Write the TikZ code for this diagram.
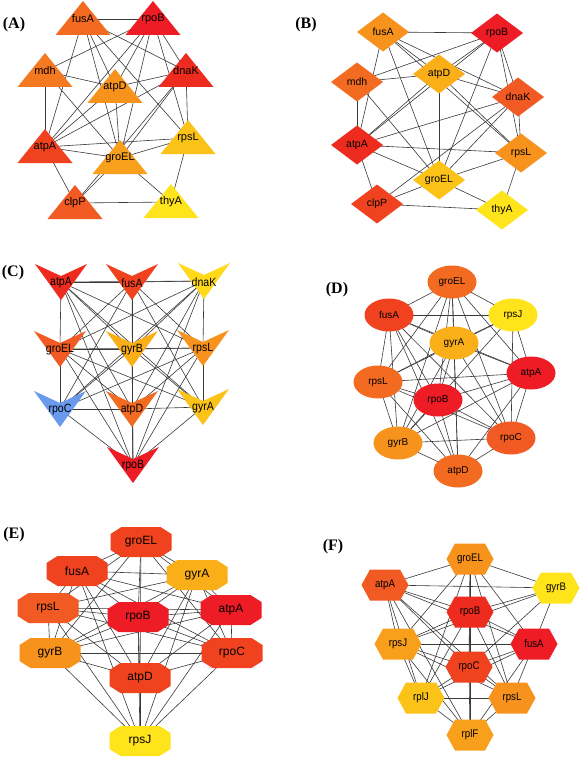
\documentclass[tikz,border=0pt]{standalone}
\usepackage{fontspec}
\setmainfont{Liberation Sans}
\newfontfamily\lblserif{Liberation Serif}
\newfontfamily\narrowf[FakeStretch=0.88]{Liberation Sans}
\definecolor{r1}{HTML}{EE1C24}
\definecolor{r2}{HTML}{EE2B1F}
\definecolor{r3}{HTML}{F0421F}
\definecolor{r4}{HTML}{F15A22}
\definecolor{o1}{HTML}{F26B21}
\definecolor{o2}{HTML}{F47920}
\definecolor{o3}{HTML}{F7921D}
\definecolor{o4}{HTML}{F8A01C}
\definecolor{y1}{HTML}{FAAF19}
\definecolor{y2}{HTML}{FBC318}
\definecolor{y3}{HTML}{FFD91A}
\definecolor{y4}{HTML}{FFE31B}
\definecolor{bl}{HTML}{6A9AEE}
\definecolor{edgec}{HTML}{3A3A3A}
\newcommand\Tri[3]{\fill[#2,shift={(#1)}] (-27.5,16) -- (0,-18) -- (27.5,16) -- cycle; \node[lbl] (#1-t) at (#1) {#3};}
\newcommand\Dia[3]{\fill[#2,shift={(#1)}] (-26,0) -- (0,-19.5) -- (26,0) -- (0,19.5) -- cycle; \node[lbl] (#1-t) at (#1) {#3};}
\newcommand\Vee[3]{\fill[#2,shift={(#1)}] (-26,-18) -- (0,-6) -- (26,-18) -- (0,18) -- cycle; \node[lbl] (#1-t) at ([yshift=-1pt]#1) {#3};}
\newcommand\Ell[3]{\fill[#2,shift={(#1)}] (0,0) ellipse [x radius=24.5, y radius=16.5]; \node[lbl] (#1-t) at (#1) {#3};}
\newcommand\Oct[3]{\fill[#2,shift={(#1)}] (-19.5,-15) -- (19.5,-15) -- (30.5,-8) -- (30.5,8) -- (19.5,15) -- (-19.5,15) -- (-30.5,8) -- (-30.5,-8) -- cycle; \node[lbl] (#1-t) at (#1) {#3};}
\newcommand\Hex[3]{\fill[#2,shift={(#1)}] (-15,-15.5) -- (15,-15.5) -- (23.5,0) -- (15,15.5) -- (-15,15.5) -- (-23.5,0) -- cycle; \node[lbl] (#1-t) at (#1) {#3};}
\begin{document}
\begin{tikzpicture}[x=1pt,y=-1pt,
  edge/.style={draw=edgec,line width=0.6pt},
  lbl/.style={inner sep=0pt,text=black},
  plabel/.style={font=\lblserif\bfseries\fontsize{16}{18}\selectfont,inner sep=0pt}]
\useasboundingbox[fill=white] (0,0) rectangle (580,757);

% ---------------- (A) ----------------
\node[plabel] (labA) at (14,25) {(A)};
\foreach \n/\x/\y in {fusA/83/19,rpoB/153/19,mdh/45/71,atpD/115/87,dnaK/186/71,atpA/45/147,rpsL/188/138,groEL/120/158,clpP/75/203,thyA/171/202}
  \coordinate (A-\n) at (\x,\y);
\foreach \a/\b in {fusA/rpoB,fusA/dnaK,fusA/atpA,fusA/atpD,fusA/groEL,fusA/rpsL,rpoB/mdh,rpoB/atpD,rpoB/dnaK,rpoB/atpA,rpoB/groEL,rpoB/rpsL,mdh/atpD,mdh/atpA,mdh/groEL,atpD/dnaK,atpD/atpA,atpD/groEL,dnaK/atpA,dnaK/groEL,dnaK/clpP,atpA/rpsL,atpA/groEL,atpA/clpP,groEL/rpsL,groEL/thyA,groEL/clpP,rpsL/thyA,clpP/thyA,dnaK/rpsL}
  \draw[edge] (A-\a) -- (A-\b);
\begin{scope}[lbl/.append style={font=\fontsize{11}{13}\selectfont}]
\foreach \n/\c in {fusA/o1,rpoB/r1,mdh/o2,atpD/o3,dnaK/r2,atpA/r3,rpsL/y2,groEL/o4,clpP/r4,thyA/y4}
  {\Tri{A-\n}{\c}{\n}}
\end{scope}

% ---------------- (B) ----------------
\node[plabel] (labB) at (306,25) {(B)};
\foreach \n/\x/\y in {fusA/383/32,rpoB/497/33,mdh/357/82,atpD/439/74,dnaK/518/97,atpA/357/145,rpsL/521/153,groEL/439/180,clpP/377/204,thyA/502/210}
  \coordinate (B-\n) at (\x,\y);
\foreach \a/\b in {fusA/rpoB,fusA/atpA,fusA/atpD,fusA/dnaK,fusA/groEL,fusA/rpsL,rpoB/mdh,rpoB/atpD,rpoB/atpA,rpoB/groEL,rpoB/dnaK,rpoB/rpsL,mdh/atpD,mdh/atpA,mdh/groEL,atpD/dnaK,atpD/atpA,atpD/groEL,atpD/rpsL,dnaK/atpA,dnaK/groEL,dnaK/clpP,dnaK/rpsL,atpA/rpsL,atpA/groEL,atpA/clpP,groEL/rpsL,groEL/clpP,groEL/thyA,rpsL/thyA,clpP/thyA}
  \draw[edge] (B-\a) -- (B-\b);
\begin{scope}[lbl/.append style={font=\fontsize{10.5}{12}\selectfont}]
\foreach \n/\c in {fusA/o3,rpoB/r1,mdh/o1,atpD/y1,dnaK/r4,atpA/r2,rpsL/o3,groEL/y2,clpP/r3,thyA/y4}
  {\Dia{B-\n}{\c}{\n}}
\end{scope}

% ---------------- (C) ----------------
\node[plabel] (labC) at (13,273) {(C)};
\foreach \n/\x/\y in {atpA/61/282,fusA/132/282,dnaK/204/281,groEL/60/349,gyrB/132/349,rpsL/203/348,rpoC/60/409,atpD/132/409,gyrA/203/407,rpoB/133/465}
  \coordinate (C-\n) at (\x,\y);
\foreach \a/\b in {atpA/fusA,fusA/dnaK,atpA/dnaK,atpA/groEL,atpA/rpsL,atpA/atpD,atpA/gyrA,atpA/rpoB,atpA/gyrB,fusA/groEL,fusA/rpoC,fusA/gyrB,fusA/rpsL,fusA/gyrA,fusA/atpD,fusA/rpoB,dnaK/groEL,dnaK/gyrB,dnaK/rpoC,dnaK/atpD,dnaK/rpsL,dnaK/rpoB,groEL/gyrB,groEL/rpsL,groEL/rpoC,groEL/gyrA,groEL/rpoB,groEL/atpD,gyrB/rpsL,gyrB/rpoC,gyrB/atpD,gyrB/rpoB,gyrB/gyrA,rpsL/rpoC,rpsL/atpD,rpsL/gyrA,rpsL/rpoB,rpoC/atpD,atpD/gyrA,rpoC/rpoB,atpD/rpoB,gyrA/rpoB}
  \draw[edge] (C-\a) -- (C-\b);
\begin{scope}[lbl/.append style={font=\narrowf\fontsize{12}{14}\selectfont}]
\foreach \n/\c in {atpA/r2,fusA/r3,dnaK/y3,groEL/r4,gyrB/y1,rpsL/o3,rpoC/bl,atpD/o1,gyrA/y2,rpoB/r1}
  {\Vee{C-\n}{\c}{\n}}
\end{scope}

% ---------------- (D) ----------------
\node[plabel] (labD) at (337,290) {(D)};
\foreach \n/\x/\y in {groEL/452/282,fusA/389/315,rpsJ/513/315,gyrA/454/343,rpsL/378/382,atpA/531/373,rpoB/438/400,gyrB/398/443,rpoC/511/438,atpD/458/471}
  \coordinate (D-\n) at (\x,\y);
\foreach \a/\b in {groEL/fusA,groEL/rpsJ,groEL/gyrA,groEL/rpsL,groEL/rpoB,groEL/gyrB,groEL/rpoC,groEL/atpD,groEL/atpA,fusA/rpsJ,fusA/gyrA,fusA/rpsL,fusA/rpoB,fusA/gyrB,fusA/atpD,fusA/rpoC,fusA/atpA,rpsJ/gyrA,rpsJ/rpsL,rpsJ/atpA,rpsJ/rpoC,rpsJ/gyrB,gyrA/rpsL,gyrA/atpA,gyrA/rpoB,gyrA/gyrB,gyrA/rpoC,gyrA/atpD,rpsL/atpA,rpsL/rpoB,rpsL/gyrB,rpsL/rpoC,rpsL/atpD,atpA/rpoB,atpA/gyrB,atpA/rpoC,atpA/atpD,rpoB/gyrB,rpoB/rpoC,rpoB/atpD,gyrB/rpoC,gyrB/atpD,rpoC/atpD}
  \draw[edge] (D-\a) -- (D-\b);
\begin{scope}[lbl/.append style={font=\fontsize{10}{12}\selectfont}]
\foreach \n/\c in {groEL/o1,fusA/r3,rpsJ/y4,gyrA/y1,rpsL/o1,atpA/r1,rpoB/r1,gyrB/o3,rpoC/r4,atpD/o1}
  {\Ell{D-\n}{\c}{\n}}
\end{scope}

% ---------------- (E) ----------------
\node[plabel] (labE) at (14,535) {(E)};
\foreach \n/\x/\y in {groEL/141/542,fusA/77/571,gyrA/197/575,rpsL/48/608,rpoB/138/617,atpA/231/610,gyrB/50/653,rpoC/232/653,atpD/140/678,rpsJ/140/741}
  \coordinate (E-\n) at (\x,\y);
\foreach \a/\b in {groEL/fusA,groEL/gyrA,groEL/rpsL,groEL/rpoB,groEL/atpA,groEL/gyrB,groEL/rpoC,groEL/atpD,fusA/gyrA,fusA/rpsL,fusA/rpoB,fusA/atpA,fusA/gyrB,fusA/rpoC,fusA/atpD,fusA/rpsJ,gyrA/rpsL,gyrA/rpoB,gyrA/atpA,gyrA/gyrB,gyrA/rpoC,gyrA/atpD,gyrA/rpsJ,rpsL/rpoB,rpsL/atpA,rpsL/gyrB,rpsL/rpoC,rpsL/atpD,rpsL/rpsJ,rpoB/atpA,rpoB/gyrB,rpoB/rpoC,rpoB/atpD,rpoB/rpsJ,atpA/gyrB,atpA/rpoC,atpA/atpD,atpA/rpsJ,gyrB/rpoC,gyrB/atpD,gyrB/rpsJ,rpoC/atpD,rpoC/rpsJ,atpD/rpsJ}
  \draw[edge] (E-\a) -- (E-\b);
\begin{scope}[lbl/.append style={font=\fontsize{12}{14}\selectfont}]
\foreach \n/\c in {groEL/r3,fusA/r3,gyrA/y1,rpsL/r4,rpoB/r1,atpA/r1,gyrB/o3,rpoC/r3,atpD/r3,rpsJ/y4}
  {\Oct{E-\n}{\c}{\n}}
\end{scope}

% ---------------- (F) ----------------
\node[plabel] (labF) at (333,547) {(F)};
\foreach \n/\x/\y in {groEL/470/559,atpA/385/585,gyrB/556/588,rpoB/470/612,rpsJ/398/644,fusA/534/644,rpoC/469/667,rplJ/421/698,rpsL/512/698,rplF/470/735}
  \coordinate (F-\n) at (\x,\y);
\foreach \a/\b in {groEL/atpA,groEL/gyrB,groEL/rpoB,groEL/rpsJ,groEL/fusA,groEL/rpoC,groEL/rplJ,groEL/rpsL,groEL/rplF,atpA/gyrB,atpA/rpoB,atpA/rpsJ,atpA/rpoC,atpA/fusA,atpA/rplJ,atpA/rpsL,atpA/rplF,gyrB/rpoB,gyrB/fusA,gyrB/rpoC,gyrB/rpsJ,rpoB/rpsJ,rpoB/fusA,rpoB/rpoC,rpoB/rplJ,rpoB/rpsL,rpoB/rplF,rpsJ/fusA,rpsJ/rpoC,rpsJ/rplJ,rpsJ/rpsL,rpsJ/rplF,fusA/rpoC,fusA/rplJ,fusA/rpsL,fusA/rplF,rpoC/rplJ,rpoC/rpsL,rpoC/rplF,rplJ/rpsL,rplJ/rplF,rpsL/rplF}
  \draw[edge] (F-\a) -- (F-\b);
\begin{scope}[lbl/.append style={font=\narrowf\fontsize{11}{13}\selectfont}]
\foreach \n/\c in {groEL/o3,atpA/r4,gyrB/y4,rpoB/r2,rpsJ/o4,fusA/r1,rpoC/r3,rplJ/y2,rpsL/o3,rplF/o4}
  {\Hex{F-\n}{\c}{\n}}
\end{scope}
\end{tikzpicture}
\end{document}
